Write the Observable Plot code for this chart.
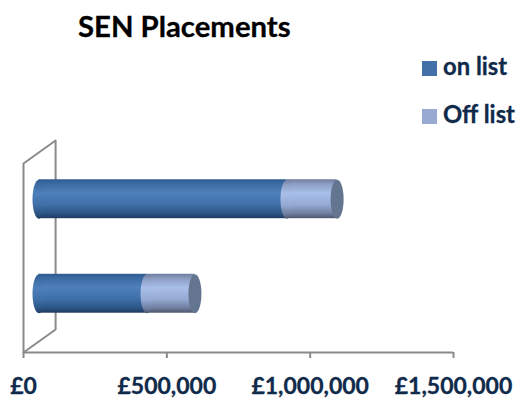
<!DOCTYPE html>
<html><head><meta charset="utf-8">
<script src="https://cdn.jsdelivr.net/npm/d3@7"></script>
<script src="https://cdn.jsdelivr.net/npm/@observablehq/plot@0.6"></script>
<style>
html,body{margin:0;padding:0;background:#fff}
#wrap{position:relative;width:516px;height:401px;overflow:hidden;font-family:Lato,sans-serif;font-weight:700}
#title{position:absolute;left:78px;top:9px;font-size:29.3px;color:#000;line-height:34px;white-space:nowrap;-webkit-text-stroke:0.3px #000}
.lg{position:absolute;left:422px;font-size:23.8px;color:#0f2a4a;line-height:26px;white-space:nowrap;-webkit-text-stroke:0.3px #0f2a4a}
.lg i{display:inline-block;width:15px;height:15px;margin-right:6px;vertical-align:-1px}
svg{display:block}
svg text{stroke:#0f2a4a;stroke-width:0.3px}
</style></head><body>
<div id="wrap">
<div id="title">SEN Placements</div>
<div class="lg" style="top:53px"><i style="background:#4470a8"></i>on list</div>
<div class="lg" style="top:101px"><i style="background:#98aad2"></i>Off list</div>
</div>
<script>
const rows = [1, 0];
const onList = [865000, 377000];
const offList = [175000, 167000];
const xTicks = [0, 500000, 1000000, 1500000];

const table = rows.map((r, i) => ({row: r, on: onList[i], off: offList[i], total: onList[i] + offList[i]}));

const yMid = d => d.row + 0.5;
const halfBar = 0.206;
const depthX = 112000, depthY = 0.243, midDx = 15.5, midDy = -11.5;
const wall = [[0,0],[0,2],[depthX,2+depthY],[depthX,depthY],[0,0]];

const ellipse = (rx, ry) => ({draw(c){
  const k = 0.5523;
  c.moveTo(-rx,0);
  c.bezierCurveTo(-rx,-ry*k,-rx*k,-ry,0,-ry);
  c.bezierCurveTo(rx*k,-ry,rx,-ry*k,rx,0);
  c.bezierCurveTo(rx,ry*k,rx*k,ry,0,ry);
  c.bezierCurveTo(-rx*k,ry,-rx,ry*k,-rx,0);
  c.closePath();
}});
const cap = ellipse(6.5, 19.5);

const defs = () => {
  const d = d3.create("svg:defs");
  const grad = (id, stops) => {
    const g = d.append("linearGradient").attr("id", id).attr("x1",0).attr("x2",0).attr("y1",0).attr("y2",1);
    stops.forEach(([o,c]) => g.append("stop").attr("offset",o).attr("stop-color",c));
  };
  grad("gOn", [[0,"#2f5a8e"],[0.12,"#3c6ba3"],[0.35,"#4e80bb"],[0.65,"#3f6fa7"],[0.88,"#2b5484"],[1,"#1e3a5f"]]);
  grad("gOff", [[0,"#6f7d9c"],[0.12,"#8c9dc3"],[0.35,"#a8bfe9"],[0.65,"#96aad3"],[0.88,"#6f7d9f"],[1,"#4d566c"]]);
  return d.node();
};

const fmt = v => "£" + d3.format(",")(v);

const chart = Plot.plot({
  width: 516, height: 401,
  marginLeft: 23, marginRight: 63, marginTop: 140, marginBottom: 49,
  style: {background: "#fff", overflow: "visible"},
  x: {domain: [0, 1500000]},
  y: {domain: [0, 2 + depthY], axis: null},
  marks: [
    defs,
    Plot.line(wall, {x: d => d[0], y: d => d[1], stroke: "#8a8a8a", strokeWidth: 2}),
    Plot.ruleY([0], {stroke: "#8a8a8a", strokeWidth: 2}),
    Plot.axisX({
      ticks: xTicks, tickSize: 6, tickPadding: 19, tickFormat: fmt, label: null,
      stroke: "#8a8a8a", strokeWidth: 2, strokeOpacity: 1,
      fill: "#0f2a4a", fontFamily: "Lato, sans-serif", fontWeight: 700, fontSize: 23
    }),
    Plot.rect(table, {x1: 0, x2: "on", y1: d => yMid(d)-halfBar, y2: d => yMid(d)+halfBar, fill: "url(#gOn)", dx: midDx, dy: midDy}),
    Plot.dot(table, {x: 0, y: yMid, symbol: cap, fill: "url(#gOn)", stroke: "none", dx: midDx, dy: midDy}),
    Plot.rect(table, {x1: "on", x2: "total", y1: d => yMid(d)-halfBar, y2: d => yMid(d)+halfBar, fill: "url(#gOff)", dx: midDx, dy: midDy}),
    Plot.dot(table, {x: "on", y: yMid, symbol: cap, fill: "url(#gOff)", stroke: "none", dx: midDx, dy: midDy}),
    Plot.dot(table, {x: "total", y: yMid, symbol: cap, fill: "#64758f", stroke: "none", dx: midDx, dy: midDy})
  ]
});
document.getElementById("wrap").prepend(chart);
</script>
</body></html>
